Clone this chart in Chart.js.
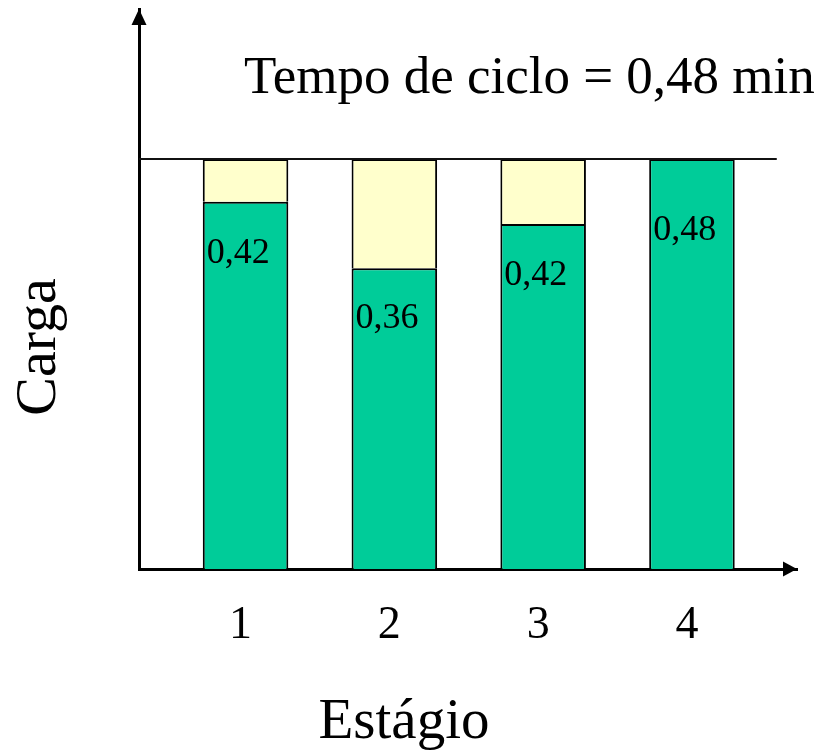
<!DOCTYPE html>
<html><head><meta charset="utf-8">
<script src="https://cdn.jsdelivr.net/npm/chart.js@4/dist/chart.umd.min.js"></script>
<style>html,body{margin:0;padding:0;background:#fff}canvas{display:block}</style>
</head><body>
<canvas id="c" width="821" height="750"></canvas>
<script>
// ---- data ----
const stages = [1, 2, 3, 4];
const stageLabels = ['1', '2', '3', '4'];
const load = [0.43, 0.352, 0.404, 0.48];       // green bar heights as drawn
const idle = [0.05, 0.128, 0.076, 0];          // yellow (idle) part up to the cycle time
const loadLabels = ['0,42', '0,36', '0,42', '0,48'];
const cycleTime = 0.48;
const titleText = 'Tempo de ciclo = 0,48 min';
const xTitle = 'Estágio';
const yTitle = 'Carga';

const SERIF = '"Liberation Serif", "Times New Roman", serif';

const decor = {
  id: 'decor',
  afterDatasetsDraw(chart, args, opts) {
    const {ctx, chartArea: a, scales: {x, y}} = chart;
    ctx.save();
    // cycle-time line
    const yc = Math.round(y.getPixelForValue(cycleTime));
    ctx.strokeStyle = '#111';
    ctx.lineWidth = 2;
    ctx.beginPath();
    ctx.moveTo(a.left, yc);
    ctx.lineTo(x.getPixelForValue(opts.cycleLineEnd), yc);
    ctx.stroke();
    // value labels inside green bars
    const meta = chart.getDatasetMeta(0);
    ctx.fillStyle = '#000';
    ctx.font = '36px ' + SERIF;
    ctx.textAlign = 'left';
    ctx.textBaseline = 'alphabetic';
    meta.data.forEach((bar, i) => {
      const left = bar.x - bar.width / 2;
      ctx.fillText(loadLabels[i], left + 4, bar.y + opts.labelDrop[i]);
    });
    ctx.restore();
  },
  afterDraw(chart, args, opts) {
    const {ctx, chartArea: a} = chart;
    ctx.save();
    ctx.fillStyle = '#000';
    // arrow heads
    ctx.beginPath();
    ctx.moveTo(a.left, a.top);
    ctx.lineTo(a.left - 7.5, a.top + 16);
    ctx.lineTo(a.left + 7.5, a.top + 16);
    ctx.closePath();
    ctx.fill();
    ctx.beginPath();
    ctx.moveTo(a.right, a.bottom);
    ctx.lineTo(a.right - 14, a.bottom - 7.5);
    ctx.lineTo(a.right - 14, a.bottom + 7.5);
    ctx.closePath();
    ctx.fill();
    // title
    ctx.font = '53px ' + SERIF;
    ctx.textAlign = 'left';
    ctx.textBaseline = 'alphabetic';
    ctx.fillText(titleText, 244, 93);
    // x title
    ctx.font = '57px ' + SERIF;
    ctx.textAlign = 'center';
    ctx.fillText(xTitle, 404, 738);
    // y title
    ctx.translate(55, 347);
    ctx.rotate(-Math.PI / 2);
    ctx.font = '58px ' + SERIF;
    ctx.fillText(yTitle, 0, 0);
    ctx.restore();
  }
};

new Chart(document.getElementById('c'), {
  type: 'bar',
  data: {
    datasets: [
      {
        label: 'Carga',
        data: stages.map((s, i) => ({x: s, y: load[i]})),
        backgroundColor: '#00CC99',
        borderColor: '#000',
        borderWidth: 2,
        barPercentage: 0.575,
        categoryPercentage: 1
      },
      {
        label: 'Ocioso',
        data: stages.map((s, i) => ({x: s, y: idle[i]})),
        backgroundColor: '#FFFFCC',
        borderColor: '#000',
        borderWidth: 2,
        barPercentage: 0.575,
        categoryPercentage: 1
      }
    ]
  },
  options: {
    responsive: false,
    animation: false,
    layout: {padding: {left: 139, right: 24, top: 9, bottom: 0}},
    plugins: {
      legend: {display: false},
      tooltip: {enabled: false},
      title: {display: false},
      decor: {cycleLineEnd: 4.57, labelDrop: [61, 60, 61, 81]}
    },
    scales: {
      x: {
        type: 'linear',
        stacked: true,
        offset: false,
        min: 0.284,
        max: 4.706,
        grid: {display: false, drawTicks: false},
        border: {display: true, color: '#000', width: 3},
        afterBuildTicks: s => { s.ticks = stages.map(v => ({value: v})); },
        afterFit: s => { s.height = 181; },
        ticks: {
          color: '#000',
          font: {family: SERIF, size: 46},
          padding: 29,
          labelOffset: -5,
          maxRotation: 0,
          autoSkip: false,
          callback: (v) => stageLabels[stages.indexOf(v)]
        }
      },
      y: {
        stacked: true,
        min: 0,
        max: 0.6556,
        grid: {display: false, drawTicks: false},
        border: {display: true, color: '#000', width: 3},
        ticks: {display: false},
        afterFit: s => { s.width = 0; }
      }
    }
  },
  plugins: [decor]
});
</script>
</body></html>
